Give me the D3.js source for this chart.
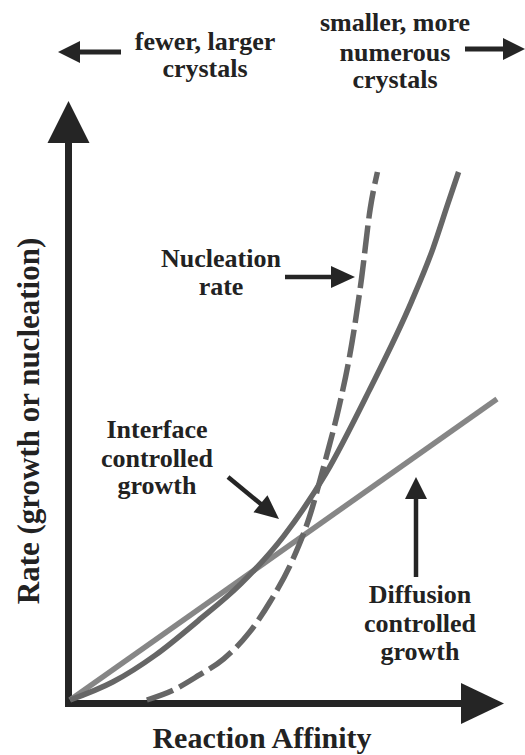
<!DOCTYPE html>
<html>
<head>
<meta charset="utf-8">
<script src="https://cdn.jsdelivr.net/npm/d3@7"></script>
<style>
  html, body { margin: 0; padding: 0; background: #fff; }
  svg { display: block; }
  text { font-family: "Liberation Serif", "Times New Roman", serif; font-weight: bold; fill: #222; }
</style>
</head>
<body>
<svg id="chart" width="525" height="755"></svg>
<script>
// ---- Data (arbitrary units: reaction affinity 0-100, rate 0-100) ----
const diffusionGrowth = [[0, 0], [100, 57]];
const interfaceGrowth = [[0, 0], [10, 3.4], [20, 8.5], [30, 15], [40, 22], [50, 31], [60, 43], [70, 58.5], [80, 75.5], [85, 85.5], [88.5, 94], [91, 100]];
const nucleationRate = [[18, 0], [24, 1.8], [30, 4.6], [36, 7.8], [42, 12.8], [47, 18.8], [52, 26.3], [56, 34.5], [60, 46], [63, 55.5], [66, 67.5], [68.3, 80], [70.3, 93], [72, 100]];

const xTitle = "Reaction Affinity";
const yTitle = "Rate (growth or nucleation)";
const leftNote = ["fewer, larger", "crystals"];
const rightNote = ["smaller, more", "numerous", "crystals"];
const nucleationLabel = ["Nucleation", "rate"];
const interfaceLabel = ["Interface", "controlled", "growth"];
const diffusionLabel = ["Diffusion", "controlled", "growth"];

// ---- Drawing ----
const svg = d3.select("#chart");
const x = d3.scaleLinear().domain([0, 100]).range([70, 497]);
const y = d3.scaleLinear().domain([0, 100]).range([700, 172]);

const ink = "#252525";

function arrowHead(tip, dir, len, halfW) {
  const [tx, ty] = tip;
  const n = Math.hypot(dir[0], dir[1]);
  const ux = dir[0] / n, uy = dir[1] / n;
  const bx = tx - ux * len, by = ty - uy * len;
  const px = -uy, py = ux;
  return `M${tx},${ty}L${bx + px * halfW},${by + py * halfW}L${bx - px * halfW},${by - py * halfW}Z`;
}
function arrow(from, to, width, headLen, headHalf) {
  const dir = [to[0] - from[0], to[1] - from[1]];
  const n = Math.hypot(dir[0], dir[1]);
  const ex = to[0] - dir[0] / n * (headLen - 2), ey = to[1] - dir[1] / n * (headLen - 2);
  svg.append("line").attr("x1", from[0]).attr("y1", from[1]).attr("x2", ex).attr("y2", ey)
    .attr("stroke", ink).attr("stroke-width", width);
  svg.append("path").attr("d", arrowHead(to, dir, headLen, headHalf)).attr("fill", ink);
}

// Axes
svg.append("line").attr("x1", 68.5).attr("y1", 140).attr("x2", 68.5).attr("y2", 707)
  .attr("stroke", ink).attr("stroke-width", 7);
svg.append("line").attr("x1", 65).attr("y1", 703.5).attr("x2", 464).attr("y2", 703.5)
  .attr("stroke", ink).attr("stroke-width", 7);
svg.append("path").attr("d", arrowHead([68.5, 101], [0, -1], 42, 21)).attr("fill", ink);
svg.append("path").attr("d", arrowHead([504, 703.5], [1, 0], 43, 20.5)).attr("fill", ink);

// Curves
const line = d3.line().x(d => x(d[0])).y(d => y(d[1])).curve(d3.curveMonotoneX);
svg.append("path").datum(diffusionGrowth).attr("d", line)
  .attr("fill", "none").attr("stroke", "#868686").attr("stroke-width", 5.5);
svg.append("path").datum(interfaceGrowth).attr("d", line)
  .attr("fill", "none").attr("stroke", "#666").attr("stroke-width", 5.5);
svg.append("path").datum(nucleationRate).attr("d", line)
  .attr("fill", "none").attr("stroke", "#666").attr("stroke-width", 5.5)
  .attr("stroke-dasharray", "28,7");

// Titles
svg.append("text").attr("x", 262).attr("y", 748).attr("text-anchor", "middle")
  .attr("font-size", 30).text(xTitle);
svg.append("text").attr("transform", "translate(39,421) rotate(-90)").attr("text-anchor", "middle")
  .attr("font-size", 31).text(yTitle);

function multiline(lines, cx, baselines, size) {
  lines.forEach((t, i) => {
    svg.append("text").attr("x", cx).attr("y", baselines[i]).attr("text-anchor", "middle")
      .attr("font-size", size).text(t);
  });
}
multiline(leftNote, 205, [50, 77], 26);
multiline(rightNote, 395, [31, 61, 88], 26);
multiline(nucleationLabel, 221, [267, 295], 26);
multiline(interfaceLabel, 157, [438, 467, 494], 26);
multiline(diffusionLabel, 420, [603, 632, 660], 26);

// Annotation arrows
arrow([121, 52], [58, 52], 5, 22, 11);
arrow([465, 49], [525, 49], 5, 22, 11);
arrow([285, 277], [355, 277], 4.5, 24, 11);
arrow([228, 477], [279, 519], 4.5, 24, 11);
arrow([416, 577], [416, 477], 4.5, 22, 11);
</script>
</body>
</html>
